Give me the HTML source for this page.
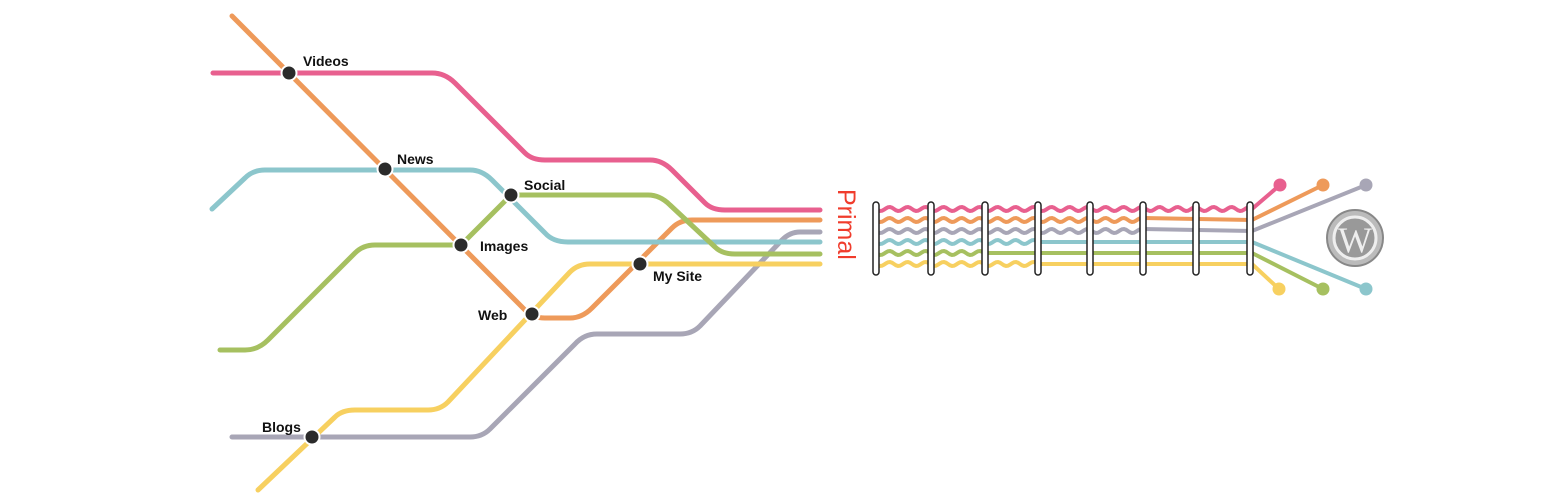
<!DOCTYPE html>
<html><head><meta charset="utf-8"><style>
html,body{margin:0;padding:0;background:#fff;width:1544px;height:500px;overflow:hidden}
text{font-family:"Liberation Sans",sans-serif}
</style></head><body>
<svg id="s" width="1544" height="500" viewBox="0 0 1544 500" xmlns="http://www.w3.org/2000/svg">
<g fill="none" stroke-width="5" stroke-linecap="round" stroke-linejoin="round">
<path stroke="#e8608f" d="M213,73 H432 Q445,73 455,83 L525,153 Q532,160 545,160 H650 Q662,160 672,170 L705,203 Q712,210 725,210 H820"/>
<path stroke="#a8a6b6" d="M232,437 H470 Q482,437 490,429 L575,344 Q584,334 597,334 H680 Q692,334 700,326 L782,240 Q790,232 800,232 H820"/>
<path stroke="#ee9a5a" d="M232,16 L525,310 Q533,318 545,318 H570 Q582,318 592,308 L672,228 Q680,220 692,220 H820"/>
<path stroke="#8cc6cc" d="M212,209 L245,178 Q253,170 265,170 H470 Q482,170 492,180 L545,233 Q553,242 568,242 H820"/>
<path stroke="#a6c060" d="M220,350 H245 Q258,350 268,340 L355,253 Q363,245 375,245 H461 L511,195 H648 Q660,195 670,205 L715,247 Q722,254 735,254 H820"/>
<path stroke="#f7d060" d="M258,490 L335,417 Q342,410 355,410 H428 Q440,410 448,402 L570,272 Q578,264 590,264 H820"/>
</g>
<g fill="#2b2b2b" stroke="#fff" stroke-width="2">
<circle cx="289" cy="73" r="7.5"/><circle cx="385" cy="169" r="7.5"/><circle cx="511" cy="195" r="7.5"/>
<circle cx="461" cy="245" r="7.5"/><circle cx="640" cy="264" r="7.5"/><circle cx="532" cy="314" r="7.5"/>
<circle cx="312" cy="437" r="7.5"/>
</g>
<g font-size="14" font-weight="bold" fill="#111">
<text x="303" y="66">Videos</text><text x="397" y="164">News</text><text x="524" y="190">Social</text>
<text x="480" y="251">Images</text><text x="653" y="281">My Site</text><text x="478" y="320">Web</text>
<text x="262" y="432">Blogs</text>
</g>
<text transform="translate(838,189) rotate(90)" font-size="25" fill="#f03c2c">Primal</text>
<g id="bundle" fill="none" stroke-width="4" stroke-linecap="round"></g>
<g fill="none" stroke-width="4" stroke-linecap="round">
<path stroke="#e8608f" d="M1252,209 L1280,185"/><path stroke="#ee9a5a" d="M1252,220 L1323,185"/><path stroke="#a8a6b6" d="M1252,231 L1366,185"/>
<path stroke="#8cc6cc" d="M1252,242 L1366,289"/><path stroke="#a6c060" d="M1252,253 L1323,289"/><path stroke="#f7d060" d="M1252,264 L1279,289"/>
</g>
<circle cx="1280" cy="185" r="6.5" fill="#e8608f"/><circle cx="1323" cy="185" r="6.5" fill="#ee9a5a"/><circle cx="1366" cy="185" r="6.5" fill="#a8a6b6"/>
<circle cx="1279" cy="289" r="6.5" fill="#f7d060"/><circle cx="1323" cy="289" r="6.5" fill="#a6c060"/><circle cx="1366" cy="289" r="6.5" fill="#8cc6cc"/>
<g id="rings" fill="#fff" stroke="#222" stroke-width="1.5"></g>
<circle cx="1355" cy="238" r="28" fill="#bbb" stroke="#888" stroke-width="2"/>
<circle cx="1355" cy="238" r="21" fill="#999" stroke="#eee" stroke-width="3"/>
<text x="1355" y="252" font-size="36" text-anchor="middle" fill="#eee" style="font-family:'Liberation Serif',serif">W</text>
</svg>
<script>
var ns="http://www.w3.org/2000/svg",b=document.getElementById('bundle'),r=document.getElementById('rings');
var L=[["#e8608f",209,1250],["#ee9a5a",220,1143],["#a8a6b6",231,1143],["#8cc6cc",242,1038],["#a6c060",253,985],["#f7d060",264,1038]];
L.forEach(function(l){var d="M876,"+l[1];for(var x=876;x<=l[2];x+=2){d+=" L"+x+","+(l[1]+2*Math.sin((x-876)/18*2*Math.PI)).toFixed(2);}
d+=" L1252,"+l[1];var p=document.createElementNS(ns,"path");p.setAttribute("d",d);p.setAttribute("stroke",l[0]);b.appendChild(p);});
[876,931,985,1038,1090,1143,1196,1250].forEach(function(x){var e=document.createElementNS(ns,"rect");e.setAttribute("x",x-3);e.setAttribute("y",202);e.setAttribute("width",6);e.setAttribute("height",73);e.setAttribute("rx",3);r.appendChild(e);});
</script>
</body></html>
